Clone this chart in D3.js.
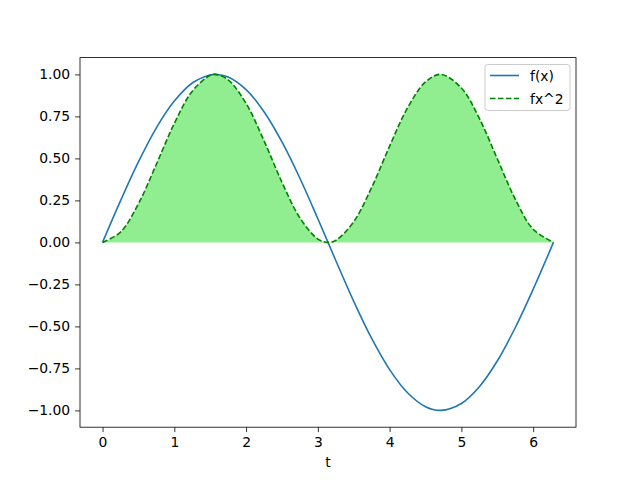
<!DOCTYPE html>
<meta charset="utf-8">
<style>
body { margin: 0; background: #fff; }
svg text { font-family: "DejaVu Sans", sans-serif; }
</style>
<body>
<div id="chart"></div>
<script src="https://d3js.org/d3.v7.min.js"></script>
<script>

// values
var tValues = [0, 0.25, 0.5, 0.75, 1, 1.25, 1.5, 1.571, 1.75, 2, 2.25, 2.5, 2.75, 3, 3.142,
               3.25, 3.5, 3.75, 4, 4.25, 4.5, 4.712, 5, 5.25, 5.5, 5.75, 6, 6.283];
var fValues = [0, 0.247, 0.479, 0.682, 0.841, 0.949, 0.997, 1.000, 0.984, 0.909, 0.778, 0.598, 0.382, 0.141, 0.000,
               -0.108, -0.351, -0.572, -0.757, -0.895, -0.978, -1.000, -0.959, -0.859, -0.706, -0.508, -0.279, 0];
var f2Values = [0, 0.061, 0.230, 0.465, 0.708, 0.900, 0.995, 1.000, 0.968, 0.827, 0.605, 0.358, 0.146, 0.020, 0.000,
               0.012, 0.123, 0.327, 0.573, 0.801, 0.955, 1.000, 0.919, 0.738, 0.498, 0.258, 0.078, 0];
var xTicks = [0, 1, 2, 3, 4, 5, 6];
var yTicks = [-1.00, -0.75, -0.50, -0.25, 0.00, 0.25, 0.50, 0.75, 1.00];
var seriesNames = ["f(x)", "fx^2"];

var width = 640,
    height = 480,
    plotLeft = 80, plotRight = 576, plotTop = 57.6, plotBottom = 427.2;

var svg = d3.select("#chart").append("svg")
    .attr("width", width)
    .attr("height", height);

var x = d3.scaleLinear().domain([-0.314, 6.597]).range([plotLeft, plotRight]);
var y = d3.scaleLinear().domain([-1.1, 1.1]).range([plotBottom, plotTop]);

var rows = tValues.map(function(t, i) {
    return {t: t, f: fValues[i], f2: f2Values[i]};
});

var curve = d3.curveCatmullRom.alpha(0.5);

var area = d3.area()
    .x(function(d) { return x(d.t); })
    .y0(y(0))
    .y1(function(d) { return y(d.f2); })
    .curve(curve);

svg.append("path")
    .datum(rows)
    .attr("d", area)
    .attr("fill", "#90ee90");

var lineF = d3.line()
    .x(function(d) { return x(d.t); })
    .y(function(d) { return y(d.f); })
    .curve(curve);

var lineF2 = d3.line()
    .x(function(d) { return x(d.t); })
    .y(function(d) { return y(d.f2); })
    .curve(curve);

svg.append("path")
    .datum(rows)
    .attr("d", lineF)
    .attr("fill", "none")
    .attr("stroke", "#1f77b4")
    .attr("stroke-width", 1.6);

svg.append("path")
    .datum(rows)
    .attr("d", lineF2)
    .attr("fill", "none")
    .attr("stroke", "green")
    .attr("stroke-width", 1.6)
    .attr("stroke-dasharray", "5.55,2.4");

// axes
var xAxis = d3.axisBottom(x).tickValues(xTicks).tickSize(4.9).tickPadding(4.9)
    .tickFormat(d3.format("d"));
var yAxis = d3.axisLeft(y).tickValues(yTicks).tickSize(4.9).tickPadding(4.9)
    .tickFormat(d3.format(".2f"));

var gx = svg.append("g")
    .attr("transform", "translate(0," + plotBottom + ")")
    .call(xAxis);
var gy = svg.append("g")
    .attr("transform", "translate(" + plotLeft + ",0)")
    .call(yAxis);

[gx, gy].forEach(function(g) {
    g.select(".domain").remove();
    g.selectAll(".tick line").attr("stroke", "#000").attr("stroke-width", 0.8);
    g.selectAll(".tick text")
        .attr("fill", "#000")
        .style("font-family", "DejaVu Sans")
        .style("font-size", "13.9px");
});

svg.append("rect")
    .attr("x", plotLeft).attr("y", plotTop)
    .attr("width", plotRight - plotLeft).attr("height", plotBottom - plotTop)
    .attr("fill", "none")
    .attr("stroke", "#000")
    .attr("stroke-width", 0.8);

svg.append("text")
    .attr("x", (plotLeft + plotRight) / 2)
    .attr("y", 467)
    .attr("text-anchor", "middle")
    .style("font-size", "13.9px")
    .text("t");

// legend
var legend = svg.append("g").attr("transform", "translate(485,64.5)");
legend.append("rect")
    .attr("width", 85).attr("height", 46)
    .attr("rx", 2.8)
    .attr("fill", "#fff").attr("fill-opacity", 0.8)
    .attr("stroke", "#ccc").attr("stroke-width", 1);

var legendStyles = [
    {color: "#1f77b4", dash: null},
    {color: "green", dash: "5.55,2.4"}
];

seriesNames.forEach(function(name, i) {
    var ly = 11 + i * 23;
    legend.append("line")
        .attr("x1", 5).attr("x2", 34)
        .attr("y1", ly).attr("y2", ly)
        .attr("stroke", legendStyles[i].color)
        .attr("stroke-width", 1.6)
        .attr("stroke-dasharray", legendStyles[i].dash);
    legend.append("text")
        .attr("x", 45).attr("y", ly + 5)
        .style("font-size", "13.9px")
        .text(name);
});

</script>
</body>
